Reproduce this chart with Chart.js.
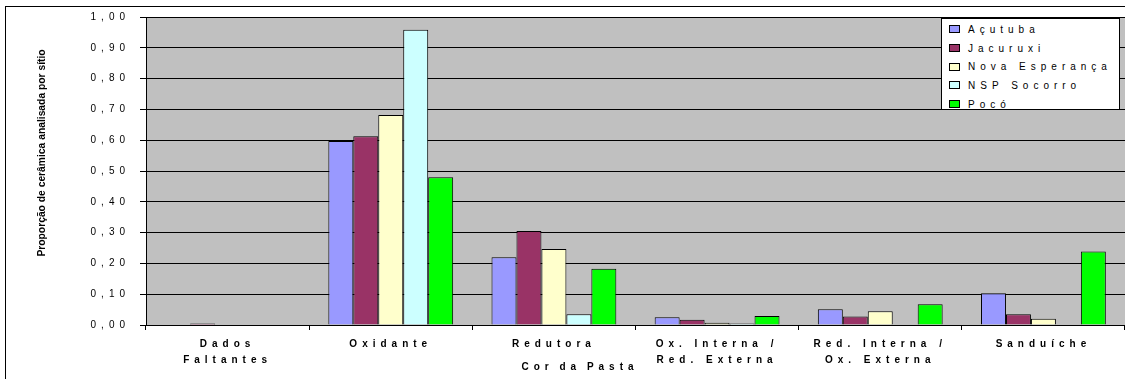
<!DOCTYPE html>
<html>
<head>
<meta charset="utf-8">
<script src="https://cdn.jsdelivr.net/npm/chart.js@4.4.0/dist/chart.umd.min.js"></script>
<style>
    html, body { margin: 0; padding: 0; background: #fff; overflow: hidden; }
    .wrap { position: relative; width: 1125px; height: 379px; }
    .legend {
        position: absolute; left: 941px; top: 18px; width: 179px; height: 92px;
        box-sizing: border-box; border: 1px solid #000; background: #fff; padding-top: 1px;
    }
    .legend-item {
        display: flex; align-items: center; height: 18.7px; padding-left: 7px;
        font: 10px "Liberation Sans", Arial, sans-serif; letter-spacing: 5px; white-space: nowrap; color: #000;
    }
    .legend-dot { width: 11px; height: 8px; box-sizing: border-box; border: 1px solid #000; margin-right: 8px; flex: none; }
</style>
</head>
<body>
<div class="wrap">
    <canvas id="chart"></canvas>
    <div class="legend" id="chartLegend"></div>
</div>
<script>
// ===== Data =====
const categories = [["Dados", "Faltantes"], "Oxidante", "Redutora", ["Ox. Interna /", "Red. Externa"], ["Red. Interna /", "Ox. Externa"], "Sanduíche"];
const seriesNames = ["Açutuba", "Jacuruxi", "Nova Esperança", "NSP Socorro", "Pocó"];
const acutuba = [0, 0.597, 0.220, 0.025, 0.051, 0.103];
const jacuruxi = [0.005, 0.613, 0.305, 0.017, 0.028, 0.035];
const novaEsperanca = [0, 0.682, 0.247, 0.007, 0.045, 0.020];
const nspSocorro = [0, 0.959, 0.035, 0.005, 0, 0];
const poco = [0, 0.480, 0.183, 0.029, 0.067, 0.239];
const colors = ['#9999ff', '#993366', '#ffffcc', '#ccffff', '#00ff00'];
const yTitle = "Proporção de cerâmica analisada por sítio";
const xTitle = "Cor da Pasta";

const FONT = '"Liberation Sans", Arial, sans-serif';
const values = [acutuba, jacuruxi, novaEsperanca, nspSocorro, poco];

// ===== Plugins =====
// grey plot area, outer frame, letter-spaced text
const chartDecor = {
    id: 'chartDecor',
    beforeDraw(chart) {
        const { ctx, chartArea: a } = chart;
        ctx.save();
        ctx.fillStyle = '#c0c0c0';
        ctx.fillRect(a.left, a.top, a.right - a.left, a.bottom - a.top);
        ctx.strokeStyle = '#000';
        ctx.lineWidth = 1;
        ctx.strokeRect(5.5, 6.5, chart.width + 20, chart.height + 20);
        ctx.restore();
        ctx.letterSpacing = '5px';
    },
    afterDraw(chart) {
        const ctx = chart.ctx;
        ctx.save();
        ctx.fillStyle = '#000';
        ctx.font = `bold 10px ${FONT}`;
        ctx.textAlign = 'center';
        ctx.textBaseline = 'middle';
        ctx.letterSpacing = '5px';
        ctx.wordSpacing = '-2px';
        ctx.fillText(xTitle, 580, 367);
        ctx.letterSpacing = '0px';
        ctx.wordSpacing = '0px';
        ctx.font = `bold 10.3px ${FONT}`;
        ctx.translate(42, 153);
        ctx.rotate(-Math.PI / 2);
        ctx.fillText(yTitle, 0, 0);
        ctx.restore();
        ctx.letterSpacing = '0px';
    }
};

// ===== Chart =====
const ctx = document.getElementById('chart').getContext('2d');
new Chart(ctx, {
    type: 'bar',
    data: {
        labels: categories,
        datasets: seriesNames.map((name, i) => ({
            label: name,
            data: values[i],
            backgroundColor: colors[i],
            borderColor: '#000',
            borderWidth: 1
        }))
    },
    options: {
        responsive: true,
        maintainAspectRatio: false,
        animation: false,
        layout: { padding: { top: 17, left: 0, right: 0, bottom: 0 } },
        categoryPercentage: 0.765,
        barPercentage: 1,
        plugins: { legend: { display: false }, tooltip: { enabled: false } },
        scales: {
            x: {
                offset: true,
                grid: { display: true, drawOnChartArea: false, drawTicks: true, tickLength: 5, color: '#000', offset: true },
                border: { color: '#000' },
                ticks: {
                    color: '#000', padding: 6, maxRotation: 0, autoSkip: false,
                    font: { family: FONT, size: 10, weight: 'bold', lineHeight: 1.6 }
                },
                afterFit: s => { s.height = 54; }
            },
            y: {
                min: 0, max: 1,
                grid: { color: '#000', tickLength: 6 },
                border: { color: '#000' },
                ticks: {
                    stepSize: 0.1, color: '#000', padding: 10,
                    font: { family: FONT, size: 10 },
                    callback: v => v.toFixed(2).replace('.', ',')
                },
                afterFit: s => { s.width = 146; }
            }
        }
    },
    plugins: [chartDecor]
});

// Custom legend
document.getElementById('chartLegend').innerHTML = seriesNames.map((name, i) => `
    <div class="legend-item">
        <div class="legend-dot" style="background: ${colors[i]}"></div>
        <span>${name}</span>
    </div>
`).join('');
</script>
</body>
</html>
